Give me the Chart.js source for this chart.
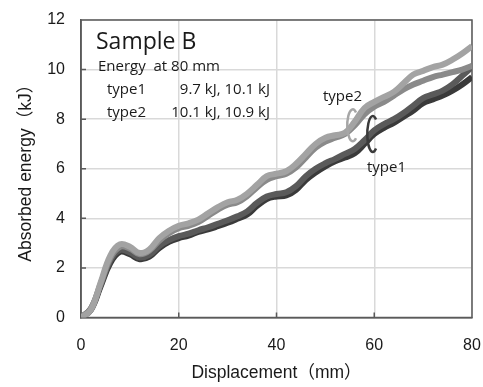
<!DOCTYPE html>
<html>
<head>
<meta charset="utf-8">
<script src="https://cdn.jsdelivr.net/npm/chart.js@4"></script>
<style>
  html, body { margin: 0; padding: 0; background: #fff; }
  #wrap { width: 483px; height: 387px; }
</style>
</head>
<body>
<div id="wrap"><canvas id="myChart" width="483" height="387"></canvas></div>
<script>
const ctx = document.getElementById('myChart');

// x values (mm), shared by all four curves
const displacement = [0, 2, 4, 6, 8, 10, 12, 14, 16, 18, 20, 22, 24, 26, 28, 30, 32, 34, 36, 38, 40,
  42, 44, 46, 48, 50, 52, 54, 56, 58, 60, 62, 64, 66, 68, 70, 72, 74, 76, 78, 80];

// absorbed energy (kJ)
const type1A = [0, 0.3, 1.25, 2.2, 2.65, 2.55, 2.35, 2.45, 2.8, 3.05, 3.2, 3.3, 3.45, 3.55, 3.68, 3.82, 3.98, 4.15, 4.5, 4.78, 4.88,
  4.92, 5.15, 5.55, 5.85, 6.1, 6.3, 6.45, 6.62, 7.0, 7.4, 7.65, 7.85, 8.1, 8.35, 8.65, 8.8, 8.95, 9.15, 9.4, 9.7];
const type1B = [0, 0.35, 1.3, 2.3, 2.72, 2.62, 2.42, 2.52, 2.88, 3.12, 3.28, 3.38, 3.52, 3.64, 3.78, 3.92, 4.08, 4.28, 4.62, 4.88, 4.98,
  5.05, 5.3, 5.7, 6.0, 6.22, 6.4, 6.6, 6.8, 7.15, 7.55, 7.8, 8.0, 8.25, 8.55, 8.85, 9.0, 9.15, 9.4, 9.75, 10.1];
const type2A = [0, 0.35, 1.35, 2.4, 2.85, 2.78, 2.55, 2.7, 3.1, 3.4, 3.6, 3.7, 3.85, 4.1, 4.35, 4.55, 4.65, 4.9, 5.25, 5.55, 5.7,
  5.8, 6.05, 6.45, 6.85, 7.1, 7.25, 7.4, 7.75, 8.2, 8.5, 8.7, 8.95, 9.2, 9.4, 9.55, 9.7, 9.8, 9.9, 10.0, 10.15];
const type2B = [0, 0.3, 1.4, 2.5, 2.95, 2.85, 2.6, 2.75, 3.2, 3.5, 3.7, 3.8, 3.95, 4.2, 4.45, 4.65, 4.75, 5.0, 5.35, 5.7, 5.8,
  5.9, 6.2, 6.6, 7.0, 7.25, 7.35, 7.45, 7.9, 8.45, 8.7, 8.9, 9.1, 9.45, 9.8, 9.95, 10.1, 10.2, 10.4, 10.65, 10.95];

const toPoints = (ys) => ys.map((y, i) => ({ x: displacement[i], y: y }));

const lineStyle = (color) => ({
  borderColor: color,
  backgroundColor: color,
  borderWidth: 6,
  pointRadius: 0,
  tension: 0.4,
  fill: false
});

// texts, frame, brackets
const decor = {
  id: 'decor',
  beforeDatasetsDraw(chart) {
    const { ctx, chartArea: a } = chart;
    ctx.save();
    ctx.strokeStyle = '#5a5a5a';
    ctx.lineWidth = 1.5;
    ctx.strokeRect(a.left, a.top, a.right - a.left, a.bottom - a.top);
    // small inside tick marks
    const xs = chart.scales.x, ys = chart.scales.y;
    ctx.beginPath();
    for (let v = 2; v <= 10; v += 2) {
      const py = ys.getPixelForValue(v);
      ctx.moveTo(a.left, py); ctx.lineTo(a.left + 5, py);
    }
    for (let v = 20; v <= 60; v += 20) {
      const px = xs.getPixelForValue(v);
      ctx.moveTo(px, a.bottom); ctx.lineTo(px, a.bottom - 5);
    }
    ctx.stroke();
    ctx.restore();
  },
  afterDraw(chart) {
    const { ctx } = chart;
    const xs = chart.scales.x, ys = chart.scales.y;
    ctx.save();
    ctx.fillStyle = '#1a1a1a';
    ctx.textBaseline = 'middle';
    ctx.textAlign = 'left';
    ctx.font = '23px "Open Sans"';
    ctx.fillText('Sample B', 96, 42);
    ctx.font = '15px "Open Sans"';
    ctx.fillText('Energy  at 80 mm', 98, 67);
    ctx.fillText('type1', 107, 90);
    ctx.fillText('type2', 107, 113);
    ctx.textAlign = 'right';
    ctx.fillText('9.7 kJ, 10.1 kJ', 270, 90);
    ctx.fillText('10.1 kJ, 10.9 kJ', 270, 113);
    ctx.textAlign = 'left';
    ctx.fillText('type2', 323, 97);
    ctx.fillText('type1', 367, 168);

    // brackets
    ctx.lineWidth = 2.5;
    ctx.strokeStyle = '#a6a6a6';
    ctx.beginPath();
    ctx.ellipse(xs.getPixelForValue(55.6), ys.getPixelForValue(7.75), 5.5, 16, 0, -0.3 * Math.PI, 0.3 * Math.PI, true);
    ctx.stroke();
    ctx.strokeStyle = '#3a3a3a';
    ctx.beginPath();
    ctx.ellipse(xs.getPixelForValue(59.7), ys.getPixelForValue(7.4), 5.5, 18, 0, -0.3 * Math.PI, 0.3 * Math.PI, true);
    ctx.stroke();
    ctx.restore();
  }
};

const titleFont = { family: '"Liberation Sans", "Noto Sans CJK JP"', size: 17.5 };

new Chart(ctx, {
  type: 'line',
  data: {
    datasets: [
      Object.assign({ label: 'type2 (2)', data: toPoints(type2B) }, lineStyle('#a3a3a3')),
      Object.assign({ label: 'type2 (1)', data: toPoints(type2A) }, lineStyle('#8a8a8a')),
      Object.assign({ label: 'type1 (2)', data: toPoints(type1B) }, lineStyle('#5a5a5a')),
      Object.assign({ label: 'type1 (1)', data: toPoints(type1A) }, lineStyle('#3a3a3a'))
    ]
  },
  options: {
    responsive: false,
    animation: false,
    layout: { padding: { top: 20, right: 11, left: 0, bottom: 0 } },
    plugins: { legend: { display: false }, tooltip: { enabled: false } },
    scales: {
      x: {
        type: 'linear',
        min: 0,
        max: 80,
        ticks: { stepSize: 20, color: '#1a1a1a', padding: 18, font: { family: '"Liberation Sans", Arial', size: 16 } },
        grid: { color: '#d9d9d9', lineWidth: 1.5, drawTicks: false },
        border: { color: '#5a5a5a', width: 1.5 },
        title: { display: true, text: 'Displacement（mm）', color: '#1a1a1a', padding: { top: 3, bottom: 3 }, font: titleFont },
        afterFit(scale) { scale.height = 69.5; scale.paddingRight = 0; scale.paddingLeft = 0; }
      },
      y: {
        min: 0,
        max: 12,
        ticks: { stepSize: 2, color: '#1a1a1a', padding: 16, font: { family: '"Liberation Sans", Arial', size: 16 } },
        grid: { color: '#d9d9d9', lineWidth: 1.5, drawTicks: false },
        border: { color: '#5a5a5a', width: 1.5 },
        title: { display: true, text: 'Absorbed energy（kJ）', color: '#1a1a1a', padding: { top: 16, bottom: 0 }, font: titleFont },
        afterFit(scale) { scale.width = 81; scale.paddingTop = 0; scale.paddingBottom = 0; }
      }
    }
  },
  plugins: [decor]
});
</script>
</body>
</html>
